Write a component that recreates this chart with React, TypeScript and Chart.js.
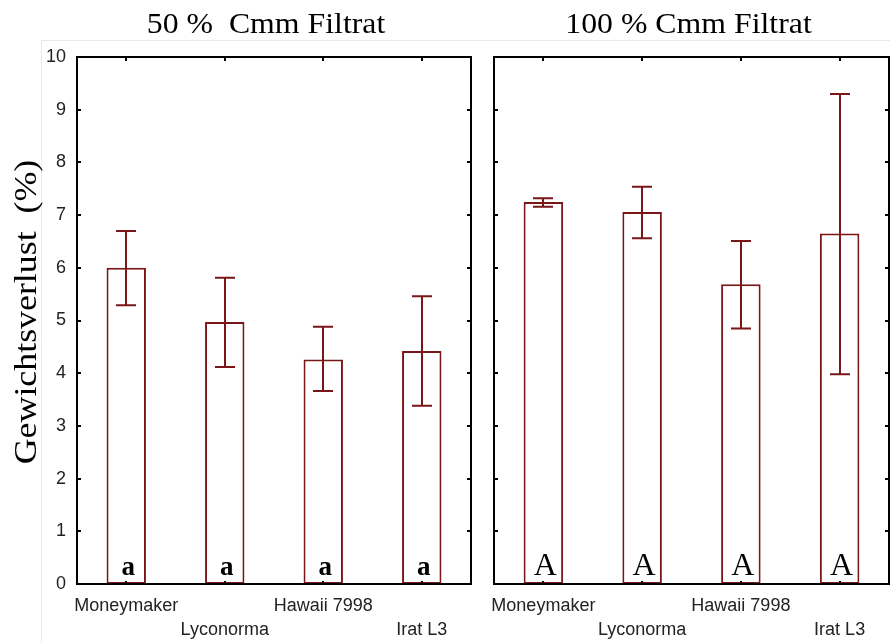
import React, { useEffect, useRef } from "react";
import { Chart, registerables } from "chart.js";

Chart.register(...registerables);

const categories = ["Moneymaker", "Lyconorma", "Hawaii 7998", "Irat L3"];
const titles = ["50 %  Cmm Filtrat", "100 % Cmm Filtrat"];
const yAxisTitle = "Gewichtsverlust  (%)";

const mean50 = [6.0, 4.97, 4.26, 4.42];
const low50 = [5.29, 4.12, 3.66, 3.38];
const high50 = [6.7, 5.81, 4.88, 5.46];
const letters50 = ["a", "a", "a", "a"];

const mean100 = [7.25, 7.06, 5.69, 6.65];
const low100 = [7.16, 6.56, 4.85, 3.98];
const high100 = [7.32, 7.54, 6.51, 9.3];
const letters100 = ["A", "A", "A", "A"];

const yTicks = [0, 1, 2, 3, 4, 5, 6, 7, 8, 9, 10];

const RED = "#7a1518";
const SERIF = "'Liberation Serif', 'Times New Roman', serif";
const SANS = "'Liberation Sans', Arial, sans-serif";

function makeConfig(opts: {
  mean: number[];
  low: number[];
  high: number[];
  letters: string[];
  title: string;
  left: boolean;
  letterFont: string;
}) {
  const { mean, low, high, letters, title, left, letterFont } = opts;
  const overlay = {
    id: "overlay" + (left ? "L" : "R"),
    afterDatasetsDraw(chart: any) {
      const ctx = chart.ctx;
      const area = chart.chartArea;
      const xs = chart.scales.x;
      const ys = chart.scales.y;
      ctx.save();
      // error bars
      ctx.strokeStyle = RED;
      ctx.lineWidth = 2;
      for (let i = 0; i < mean.length; i++) {
        const x = Math.round(xs.getPixelForValue(i));
        const yl = ys.getPixelForValue(low[i]);
        const yh = ys.getPixelForValue(high[i]);
        ctx.beginPath();
        ctx.moveTo(x, yl);
        ctx.lineTo(x, yh);
        ctx.moveTo(x - 10, yl);
        ctx.lineTo(x + 10, yl);
        ctx.moveTo(x - 10, yh);
        ctx.lineTo(x + 10, yh);
        ctx.stroke();
      }
      // letters
      ctx.fillStyle = "#000";
      ctx.font = letterFont;
      ctx.textAlign = "center";
      ctx.textBaseline = "alphabetic";
      for (let i = 0; i < letters.length; i++) {
        const x = xs.getPixelForValue(i);
        ctx.fillText(letters[i], x + 2, area.bottom - 9);
      }
      // inner ticks
      ctx.strokeStyle = "#000";
      ctx.lineWidth = 2;
      ctx.beginPath();
      for (const v of yTicks) {
        const y = Math.round(ys.getPixelForValue(v));
        ctx.moveTo(area.left, y);
        ctx.lineTo(area.left + 4, y);
        ctx.moveTo(area.right, y);
        ctx.lineTo(area.right - 4, y);
      }
      for (let i = 0; i < categories.length; i++) {
        const x = Math.round(xs.getPixelForValue(i));
        ctx.moveTo(x, area.top);
        ctx.lineTo(x, area.top + 4);
        ctx.moveTo(x, area.bottom);
        ctx.lineTo(x, area.bottom - 3);
      }
      ctx.stroke();
      // frame
      ctx.lineWidth = 2;
      ctx.strokeRect(area.left, area.top, area.right - area.left, area.bottom - area.top);
      // faint background outline
      ctx.strokeStyle = "#e9e9e9";
      ctx.lineWidth = 1;
      ctx.beginPath();
      ctx.moveTo(left ? 41 : 0, 40.5);
      ctx.lineTo(chart.width, 40.5);
      if (left) {
        ctx.moveTo(41.5, 40);
        ctx.lineTo(41.5, chart.height);
      }
      ctx.stroke();
      // title
      ctx.fillStyle = "#000";
      ctx.font = "30px " + SERIF;
      ctx.textAlign = "center";
      ctx.textBaseline = "alphabetic";
      ctx.save();
      ctx.translate((area.left + area.right) / 2 - (left ? 8 : 3), 33);
      ctx.scale(1.06, 1);
      ctx.fillText(title, 0, 0);
      ctx.restore();
      // y axis title
      if (left) {
        ctx.save();
        ctx.translate(36, 312);
        ctx.rotate(-Math.PI / 2);
        ctx.scale(1.12, 1);
        ctx.font = "32px " + SERIF;
        ctx.textAlign = "center";
        ctx.fillText(yAxisTitle, 0, 0);
        ctx.restore();
      }
      ctx.restore();
    },
  };

  return {
    type: "bar" as const,
    data: {
      labels: categories,
      datasets: [
        {
          data: mean,
          backgroundColor: "#ffffff",
          borderColor: RED,
          borderWidth: 2,
          borderSkipped: false,
          barPercentage: 0.4,
          categoryPercentage: 1,
        },
      ],
    },
    options: {
      responsive: false,
      animation: false,
      layout: { padding: { top: 57, right: left ? 9 : 1, left: 0, bottom: 0 } },
      plugins: { legend: { display: false }, tooltip: { enabled: false }, title: { display: false } },
      scales: {
        x: {
          type: "category",
          offset: true,
          grid: { display: false },
          border: { display: false },
          ticks: {
            autoSkip: false,
            maxRotation: 0,
            minRotation: 0,
            padding: 3,
            color: "#222",
            font: { family: SANS, size: 18, lineHeight: 1.28 },
            callback: (_v: any, i: number) => (i % 2 === 0 ? [categories[i], ""] : ["", categories[i]]),
          },
          afterFit: (s: any) => {
            s.height = 59;
          },
        },
        y: {
          min: 0,
          max: 10,
          grid: { display: false },
          border: { display: false },
          ticks: {
            display: left,
            stepSize: 1,
            padding: 3,
            color: "#222",
            font: { family: SANS, size: 18 },
          },
          afterFit: (s: any) => {
            s.width = left ? 77 : 14;
          },
        },
      },
    },
    plugins: [overlay],
  };
}

function Panel(props: { w: number; left: number; cfg: any }) {
  const ref = useRef<HTMLCanvasElement>(null);
  useEffect(() => {
    const chart = new Chart(ref.current as HTMLCanvasElement, props.cfg);
    return () => chart.destroy();
  }, []);
  return (
    <canvas
      ref={ref}
      width={props.w}
      height={643}
      style={{ position: "absolute", left: props.left, top: 0, width: props.w, height: 643 }}
    />
  );
}

export default function App() {
  const cfgL = makeConfig({
    mean: mean50,
    low: low50,
    high: high50,
    letters: letters50,
    title: titles[0],
    left: true,
    letterFont: "bold 27px " + SERIF,
  });
  const cfgR = makeConfig({
    mean: mean100,
    low: low100,
    high: high100,
    letters: letters100,
    title: titles[1],
    left: false,
    letterFont: "32px " + SERIF,
  });
  return (
    <div style={{ position: "fixed", left: 0, top: 0, width: 890, height: 643, background: "#fff", overflow: "hidden" }}>
      <Panel w={480} left={0} cfg={cfgL} />
      <Panel w={410} left={480} cfg={cfgR} />
    </div>
  );
}
